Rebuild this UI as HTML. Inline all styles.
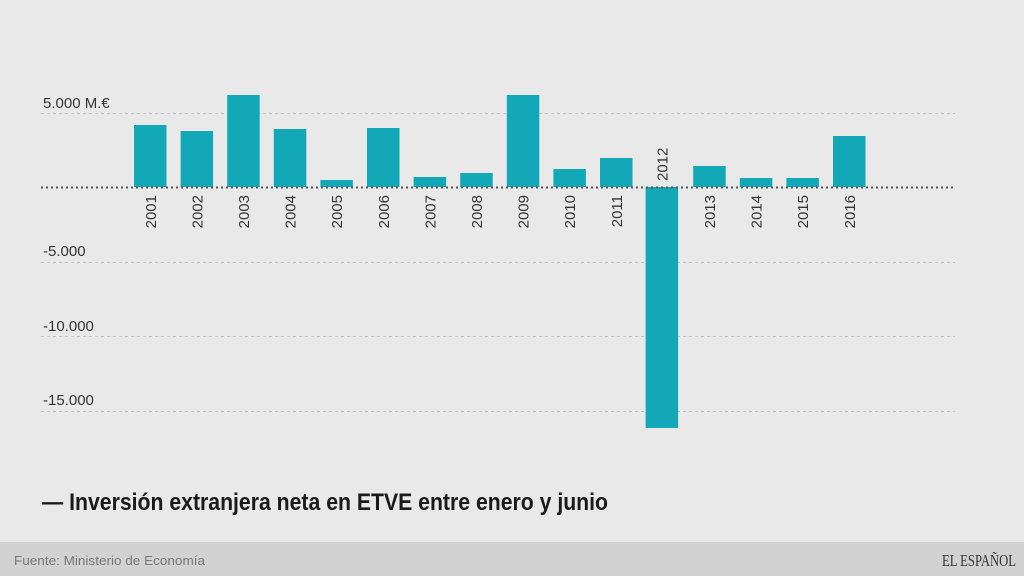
<!DOCTYPE html>
<html><head><meta charset="utf-8"><style>
html,body{margin:0;padding:0;background:#e9e9e9;}
svg{display:block;}
</style></head><body>
<svg width="1024" height="576" viewBox="0 0 1024 576" xmlns="http://www.w3.org/2000/svg">
<rect x="0" y="0" width="1024" height="576" fill="#e9e9e9"/>
<g stroke="#c4c4c4" stroke-width="1" stroke-dasharray="3,3">
<line x1="41" y1="113.5" x2="955" y2="113.5"/>
<line x1="41" y1="262.5" x2="955" y2="262.5"/>
<line x1="41" y1="336.5" x2="955" y2="336.5"/>
<line x1="41" y1="411.5" x2="955" y2="411.5"/>
</g>
<g font-family="Liberation Sans, Arial, sans-serif" font-size="15" fill="#333">
<text x="43" y="108">5.000 M.€</text>
<text x="43" y="256">-5.000</text>
<text x="43" y="331">-10.000</text>
<text x="43" y="405">-15.000</text>
</g>
<g fill="#13a8b8">
<rect x="134" y="125" width="32.5" height="62"/>
<rect x="180.6" y="131" width="32.5" height="56"/>
<rect x="227.2" y="95" width="32.5" height="92"/>
<rect x="273.8" y="129" width="32.5" height="58"/>
<rect x="320.4" y="180" width="32.5" height="7"/>
<rect x="367" y="128" width="32.5" height="59"/>
<rect x="413.6" y="177" width="32.5" height="10"/>
<rect x="460.2" y="173" width="32.5" height="14"/>
<rect x="506.8" y="95" width="32.5" height="92"/>
<rect x="553.4" y="169" width="32.5" height="18"/>
<rect x="600" y="158" width="32.5" height="29"/>
<rect x="645.6" y="187" width="32.5" height="241"/>
<rect x="693.2" y="166" width="32.5" height="21"/>
<rect x="739.8" y="178" width="32.5" height="9"/>
<rect x="786.4" y="178" width="32.5" height="9"/>
<rect x="833" y="136" width="32.5" height="51"/>
</g>
<line x1="41" y1="187.5" x2="955" y2="187.5" stroke="#555" stroke-width="2" stroke-dasharray="2,3"/>
<g font-family="Liberation Sans, Arial, sans-serif" font-size="15" fill="#333" text-anchor="end">
<text transform="translate(155.8,195) rotate(-90)">2001</text>
<text transform="translate(202.4,195) rotate(-90)">2002</text>
<text transform="translate(249,195) rotate(-90)">2003</text>
<text transform="translate(295.6,195) rotate(-90)">2004</text>
<text transform="translate(342.2,195) rotate(-90)">2005</text>
<text transform="translate(388.8,195) rotate(-90)">2006</text>
<text transform="translate(435.4,195) rotate(-90)">2007</text>
<text transform="translate(482,195) rotate(-90)">2008</text>
<text transform="translate(528.6,195) rotate(-90)">2009</text>
<text transform="translate(575.2,195) rotate(-90)">2010</text>
<text transform="translate(621.8,195) rotate(-90)">2011</text>
<text transform="translate(667.4,181) rotate(-90)" text-anchor="start">2012</text>
<text transform="translate(715,195) rotate(-90)">2013</text>
<text transform="translate(761.6,195) rotate(-90)">2014</text>
<text transform="translate(808.2,195) rotate(-90)">2015</text>
<text transform="translate(854.8,195) rotate(-90)">2016</text>
</g>
<text x="42" y="510" font-family="Liberation Sans, Arial, sans-serif" font-size="24" font-weight="bold" fill="#1a1a1a" textLength="566" lengthAdjust="spacingAndGlyphs">— Inversión extranjera neta en ETVE entre enero y junio</text>
<rect x="0" y="542" width="1024" height="34" fill="#d2d2d2"/>
<text x="14" y="565" font-family="Liberation Sans, Arial, sans-serif" font-size="13" fill="#777" textLength="191" lengthAdjust="spacingAndGlyphs">Fuente: Ministerio de Economía</text>
<text x="1016" y="566" text-anchor="end" font-family="Liberation Serif, serif" font-size="17" fill="#333" textLength="74" lengthAdjust="spacingAndGlyphs">EL ESPAÑOL</text>
</svg>
</body></html>
